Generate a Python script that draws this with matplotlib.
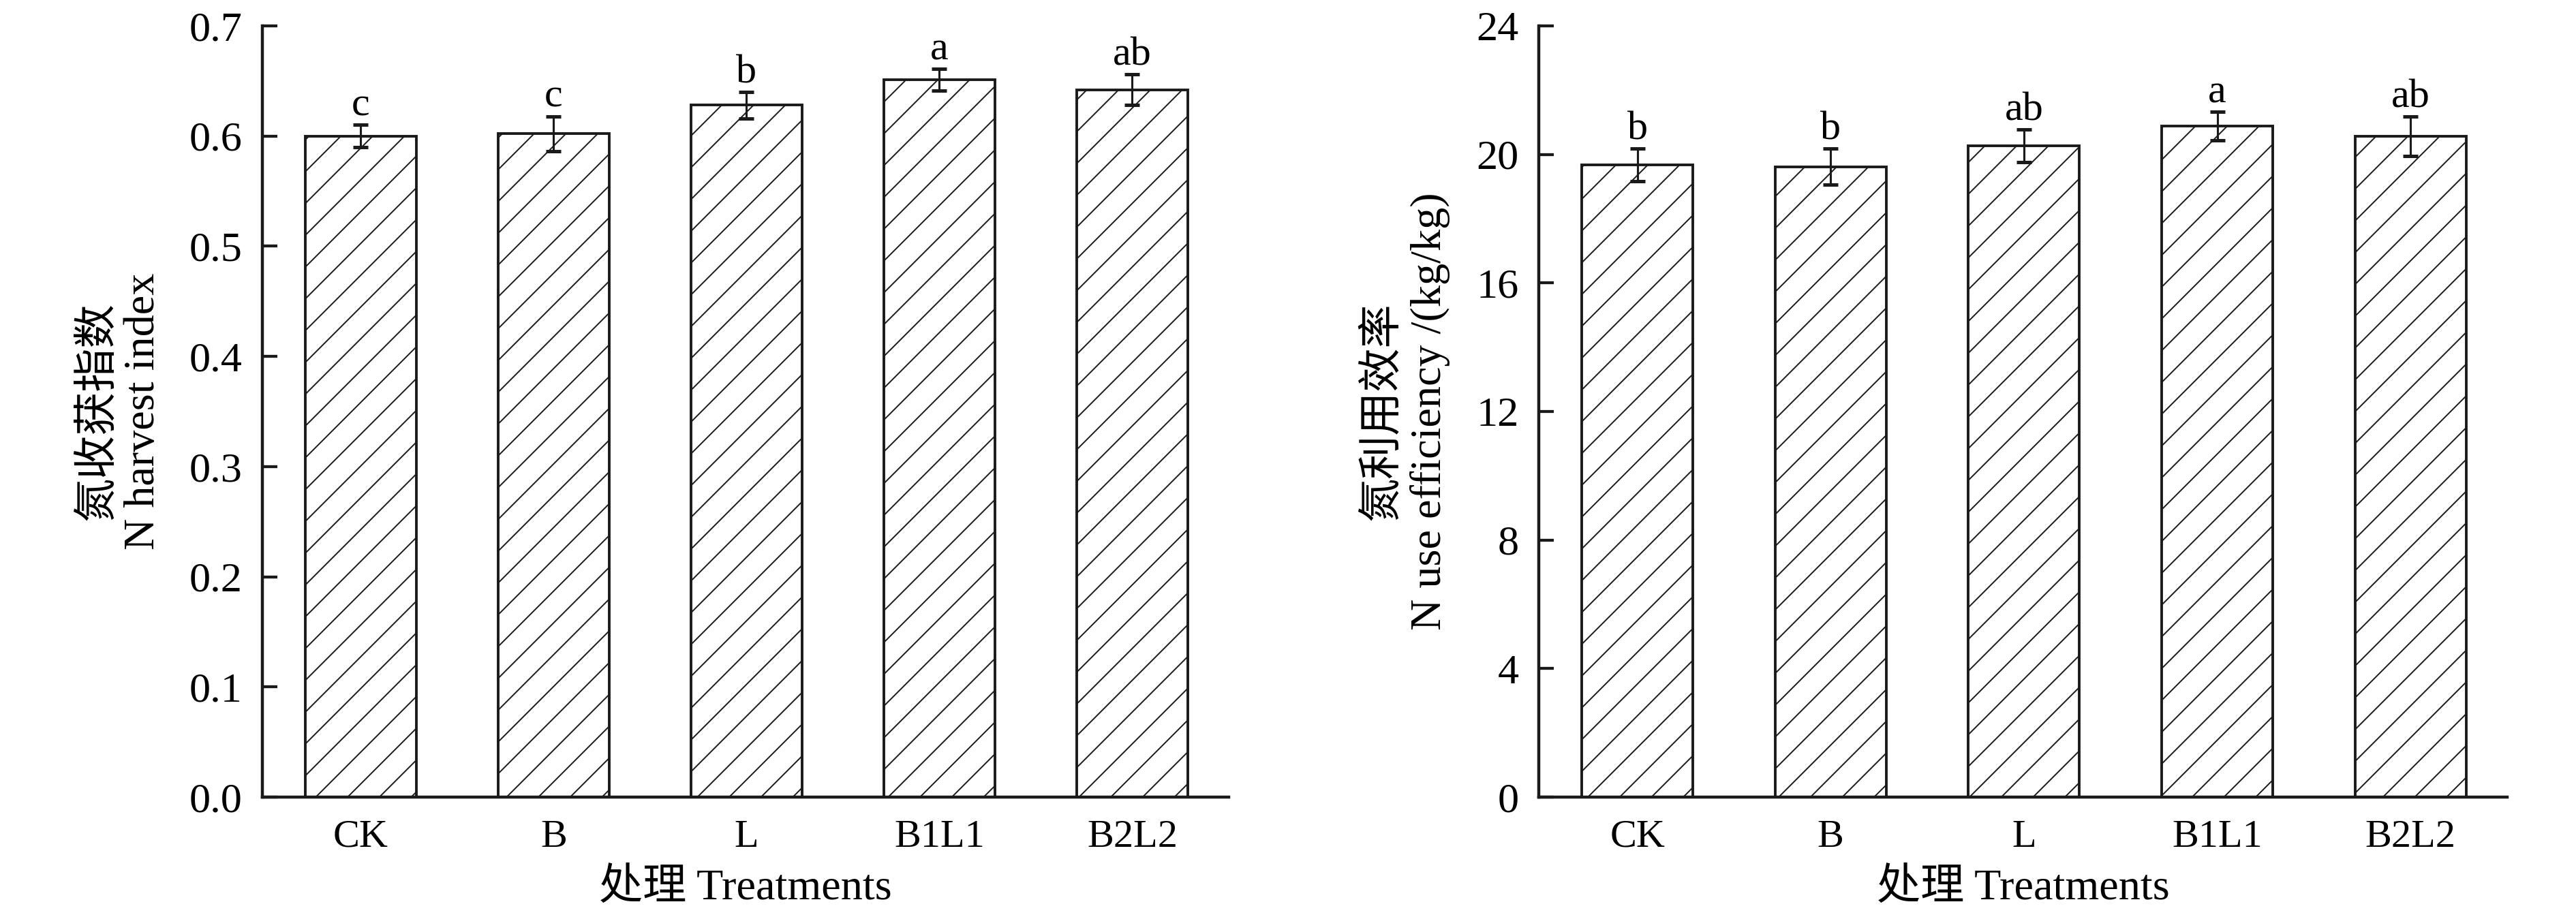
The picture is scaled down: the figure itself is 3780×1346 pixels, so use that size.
import numpy as np
import matplotlib
matplotlib.use("Agg")
import matplotlib.pyplot as plt

plt.rcParams["font.family"] = ["Liberation Serif", "Noto Sans CJK SC"]
plt.rcParams["hatch.linewidth"] = 1.0
plt.rcParams["axes.unicode_minus"] = False

treatments = ["CK", "B", "L", "B1L1", "B2L2"]

# N harvest index
nhi_mean = [0.600, 0.602, 0.628, 0.651, 0.642]
nhi_err = [0.010, 0.016, 0.012, 0.010, 0.014]
nhi_letters = ["c", "c", "b", "a", "ab"]

# N use efficiency (kg/kg)
nue_mean = [19.68, 19.62, 20.27, 20.88, 20.57]
nue_err = [0.51, 0.56, 0.51, 0.44, 0.61]
nue_letters = ["b", "b", "ab", "a", "ab"]

DPI = 140
fig = plt.figure(figsize=(3780 / DPI, 1346 / DPI), dpi=DPI)

ax1 = fig.add_axes([0.10185, 0.1308, 0.37513, 0.8410])
ax2 = fig.add_axes([0.59735, 0.1308, 0.37593, 0.8410])


def draw_panel(ax, mean, err, letters, ylim, yticks, yfmt, ylabel, label_x):
    x = np.arange(len(treatments))
    ax.bar(x, mean, width=0.575, color="white", edgecolor="#1a1a1a",
           linewidth=2.0, hatch="/", zorder=2)
    ax.errorbar(x, mean, yerr=err, fmt="none", ecolor="#1a1a1a",
                elinewidth=1.6, capsize=5.5, capthick=2.6, zorder=3)
    for xi, m, e, t in zip(x, mean, err, letters):
        ax.annotate(t, (xi, m + e), xytext=(0, 7), textcoords="offset points",
                    ha="center", va="baseline", fontsize=31)
    ax.set_xlim(-0.51, 4.5)
    ax.set_ylim(*ylim)
    ax.set_yticks(yticks)
    ax.set_yticklabels([yfmt.format(v) for v in yticks])
    ax.set_xticks(x)
    ax.set_xticklabels(treatments)
    for s in ["top", "right"]:
        ax.spines[s].set_visible(False)
    for s in ["left", "bottom"]:
        ax.spines[s].set_linewidth(2.3)
        ax.spines[s].set_color("#1a1a1a")
    ax.tick_params(axis="y", direction="in", length=11.5, width=2.2,
                   labelsize=32, pad=15, color="#1a1a1a")
    ax.tick_params(axis="x", direction="in", length=11, width=2.0,
                   labelsize=30, pad=17, color="#1a1a1a")
    ax.set_xlabel("处理 Treatments", fontsize=33, labelpad=10)
    ax.set_ylabel(ylabel, fontsize=33, linespacing=1.2)
    ax.yaxis.set_label_coords(label_x, 0.5)


draw_panel(ax1, nhi_mean, nhi_err, nhi_letters, (0, 0.7),
           np.arange(0, 0.71, 0.1), "{:.1f}", "氮收获指数\nN harvest index", -0.102)
draw_panel(ax2, nue_mean, nue_err, nue_letters, (0, 24),
           np.arange(0, 25, 4), "{:.0f}", "氮利用效率\nN use efficiency /(kg/kg)", -0.0915)

fig.savefig("out.png", dpi=DPI)
